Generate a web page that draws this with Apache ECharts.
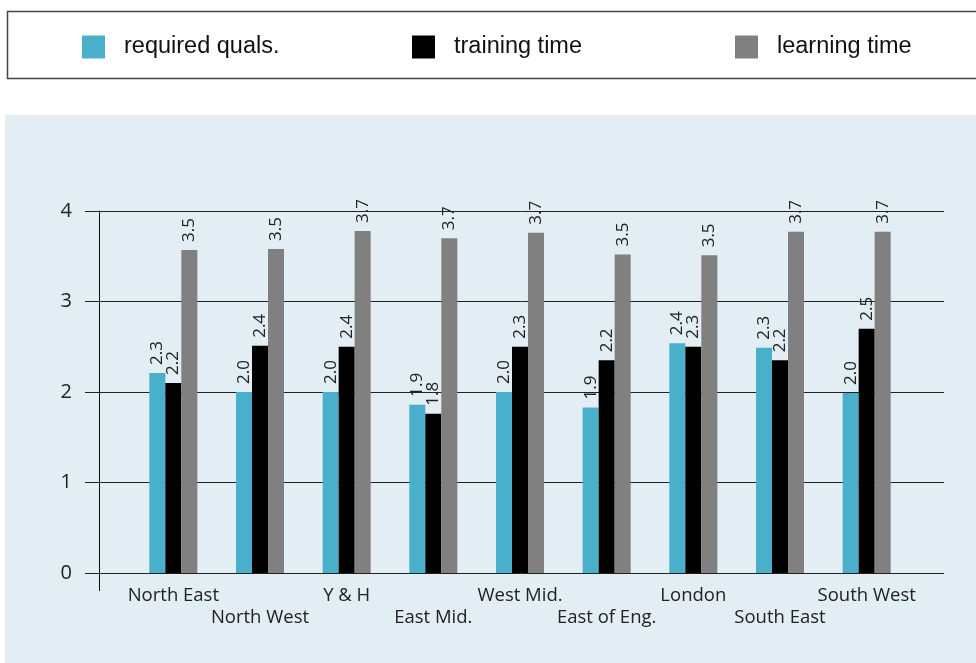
<!DOCTYPE html>
<html>
<head>
<meta charset="utf-8">
<script src="https://cdn.jsdelivr.net/npm/echarts@6/dist/echarts.min.js"></script>
<style>html,body{margin:0;padding:0;background:#fff}#c{width:976px;height:663px}</style>
</head>
<body>
<div id="c"></div>
<script>
const categories = ['North East','North West','Y & H','East Mid.','West Mid.','East of Eng.','London','South East','South West'];
const seriesNames = ['required quals.','training time','learning time'];
const requiredQuals = [2.21, 2.00, 2.00, 1.86, 2.00, 1.83, 2.54, 2.49, 1.99];
const trainingTime  = [2.10, 2.51, 2.50, 1.76, 2.50, 2.35, 2.50, 2.35, 2.70];
const learningTime  = [3.57, 3.58, 3.78, 3.70, 3.76, 3.52, 3.51, 3.77, 3.77];
const requiredLabels = ['2.3','2.0','2.0','1.9','2.0','1.9','2.4','2.3','2.0'];
const trainingLabels = ['2.2','2.4','2.4','1.8','2.3','2.2','2.3','2.2','2.5'];
const learningLabels = ['3.5','3.5','3.7','3.7','3.7','3.5','3.5','3.7','3.7'];
const yTicks = [0, 1, 2, 3, 4];

const colors = ['#4aafcb', '#000000', '#808080'];
const chart = echarts.init(document.getElementById('c'));

function makeSeries(name, values, labels, color) {
  return {
    name: name, type: 'bar', xAxisIndex: 1, yAxisIndex: 1,
    barWidth: 16, barGap: '0%',
    itemStyle: { color: color },
    data: values,
    label: {
      show: true, position: 'top', rotate: 90, align: 'left', verticalAlign: 'middle',
      distance: 8, fontFamily: 'Open Sans', fontSize: 17, color: '#222',
      formatter: p => labels[p.dataIndex]
    }
  };
}

const legendCommon = {
  itemWidth: 23, itemHeight: 23, icon: 'rect', top: 30,
  textStyle: { fontFamily: 'Liberation Sans', fontSize: 23.5, color: '#111', padding: [0, 0, 0, 14] },
  itemGap: 20, selectedMode: false
};

chart.setOption({
  animation: false,
  color: colors,
  graphic: [
    { type: 'rect', z: -100, shape: { x: 5, y: 115, width: 971, height: 548 }, style: { fill: '#e2edf4' } },
    { type: 'rect', z: -100, shape: { x: 7.5, y: 11.5, width: 980, height: 67 }, style: { fill: '#fff', stroke: '#444', lineWidth: 1.5 } },
    { type: 'line', z: 50, shape: { x1: 99.5, y1: 573, x2: 99.5, y2: 591 }, style: { stroke: '#111', lineWidth: 1 } }
  ],
  legend: [
    Object.assign({ left: 77, data: [seriesNames[0]] }, legendCommon),
    Object.assign({ left: 407, data: [seriesNames[1]] }, legendCommon),
    Object.assign({ left: 730, data: [seriesNames[2]] }, legendCommon)
  ],
  grid: [
    { left: 99, right: 32, top: 211, bottom: 90 },
    { left: 130, right: 66, top: 211, bottom: 90 }
  ],
  xAxis: [
    { gridIndex: 0, type: 'category', data: categories, axisLine: { show: false }, axisTick: { show: false }, axisLabel: { show: false } },
    { gridIndex: 1, type: 'category', data: categories,
      axisLine: { show: false }, axisTick: { show: false },
      axisLabel: { interval: 0, margin: 12, fontFamily: 'Open Sans', fontSize: 18.5, lineHeight: 22, color: '#222',
        formatter: (v, i) => (i % 2 ? '\n' + v : v) } }
  ],
  yAxis: [
    { gridIndex: 0, type: 'value', min: yTicks[0], max: yTicks[yTicks.length - 1], interval: 1,
      axisLine: { show: true, lineStyle: { color: '#111', width: 1 } },
      axisTick: { show: true, length: 14, lineStyle: { color: '#222', width: 1 } },
      splitLine: { lineStyle: { color: '#222', width: 1 } },
      axisLabel: { margin: 27, fontFamily: 'Open Sans', fontSize: 20, color: '#222' } },
    { gridIndex: 1, type: 'value', min: yTicks[0], max: yTicks[yTicks.length - 1], interval: 1, show: false }
  ],
  series: [
    makeSeries(seriesNames[0], requiredQuals, requiredLabels, colors[0]),
    makeSeries(seriesNames[1], trainingTime, trainingLabels, colors[1]),
    makeSeries(seriesNames[2], learningTime, learningLabels, colors[2])
  ]
});
</script>
</body>
</html>
